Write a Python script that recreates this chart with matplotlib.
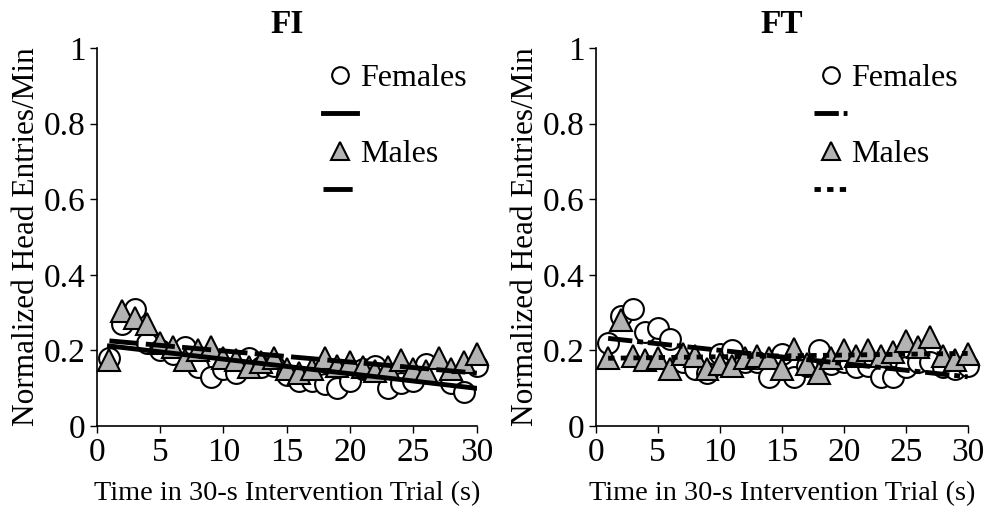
import matplotlib
import matplotlib.pyplot as plt
import numpy as np

plt.switch_backend("agg")
plt.rcParams["font.family"] = ["Liberation Serif", "DejaVu Serif"]
plt.rcParams["axes.unicode_minus"] = False

TRIALS = list(range(1, 31))

FI_FEMALES = [0.18, 0.27, 0.31, 0.22, 0.20, 0.19, 0.21, 0.155, 0.13, 0.15,
              0.14, 0.18, 0.155, 0.16, 0.135, 0.12, 0.12, 0.11, 0.10, 0.12,
              0.15, 0.16, 0.10, 0.115, 0.12, 0.165, 0.14, 0.115, 0.09, 0.16]
FI_MALES = [0.175, 0.305, 0.285, 0.27, 0.22, 0.21, 0.175, 0.20, 0.21, 0.18,
            0.175, 0.155, 0.17, 0.18, 0.15, 0.14, 0.15, 0.18, 0.16, 0.17,
            0.155, 0.145, 0.155, 0.175, 0.15, 0.145, 0.18, 0.15, 0.17, 0.19]

FT_FEMALES = [0.22, 0.29, 0.31, 0.25, 0.26, 0.23, 0.17, 0.15, 0.14, 0.19,
              0.20, 0.17, 0.17, 0.13, 0.19, 0.13, 0.16, 0.20, 0.165, 0.17,
              0.155, 0.16, 0.13, 0.13, 0.155, 0.17, 0.17, 0.155, 0.15, 0.16]
FT_MALES = [0.18, 0.28, 0.185, 0.175, 0.18, 0.15, 0.19, 0.185, 0.15, 0.165,
            0.16, 0.18, 0.185, 0.18, 0.15, 0.205, 0.165, 0.14, 0.18, 0.20,
            0.185, 0.20, 0.185, 0.195, 0.225, 0.21, 0.235, 0.185, 0.175, 0.19]

PANELS = [
    ("FI", FI_FEMALES, FI_MALES, "-", (0, (6, 1.5))),
    ("FT", FT_FEMALES, FT_MALES, (0, (5, 1, 1.2, 1)), (0, (1.3, 1.3))),
]

Y_TICKS = [0, 0.2, 0.4, 0.6, 0.8, 1]
Y_TICK_LABELS = ["0", "0.2", "0.4", "0.6", "0.8", "1"]
X_TICKS = [0, 5, 10, 15, 20, 25, 30]


def draw_panel(ax, title, females, males, fem_ls, male_ls):
    x = np.array(TRIALS)
    ax.plot(x, females, linestyle="none", marker="o", markersize=15,
            markerfacecolor="white", markeredgecolor="black",
            markeredgewidth=1.5, clip_on=False, zorder=3)
    ax.plot(x, males, linestyle="none", marker="^", markersize=16,
            markerfacecolor="#b3b3b3", markeredgecolor="black",
            markeredgewidth=1.5, clip_on=False, zorder=4)

    f_fit = np.polyfit(x, females, 1)
    m_fit = np.polyfit(x, males, 1)
    ax.plot(x, np.polyval(f_fit, x), color="black", linewidth=3.5,
            linestyle=fem_ls, zorder=5)
    ax.plot(x, np.polyval(m_fit, x), color="black", linewidth=3.5,
            linestyle=male_ls, zorder=5)

    # legend: marker rows with text, line rows without text
    h_f, = ax.plot([], [], linestyle="none", marker="o", markersize=12,
                   markerfacecolor="white", markeredgecolor="black",
                   markeredgewidth=1.5)
    h_fl, = ax.plot([], [], color="black", linewidth=3.5, linestyle=fem_ls)
    h_m, = ax.plot([], [], linestyle="none", marker="^", markersize=13,
                   markerfacecolor="#b3b3b3", markeredgecolor="black",
                   markeredgewidth=1.5)
    h_ml, = ax.plot([], [], color="black", linewidth=3.5, linestyle=male_ls)
    ax.legend([h_f, h_fl, h_m, h_ml], ["Females", "", "Males", ""],
              loc="upper right", bbox_to_anchor=(1.015, 1.0), frameon=False,
              fontsize=23, handlelength=1.05, handletextpad=0.1,
              labelspacing=0.27, borderaxespad=0.1)

    ax.set_xlim(0, 30)
    ax.set_ylim(0, 1)
    ax.set_xticks(X_TICKS)
    ax.set_yticks(Y_TICKS)
    ax.set_yticklabels(Y_TICK_LABELS)
    ax.tick_params(direction="out", length=5, width=1.0, labelsize=24, pad=3)
    for side in ("top", "right"):
        ax.spines[side].set_visible(False)
    for side in ("left", "bottom"):
        ax.spines[side].set_linewidth(1.2)

    ax.set_title(title, fontsize=24, fontweight="bold", pad=11)
    ax.set_xlabel("Time in 30-s Intervention Trial (s)", fontsize=20.3, labelpad=10)
    ax.set_ylabel("Normalized Head Entries/Min", fontsize=22.5, labelpad=2)


def main():
    fig = plt.figure(figsize=(10.08, 5.12), dpi=100)
    ax1 = fig.add_axes([0.096, 0.168, 0.377, 0.738])
    ax2 = fig.add_axes([0.591, 0.168, 0.369, 0.738])
    for ax, (title, fem, mal, fls, mls) in zip([ax1, ax2], PANELS):
        draw_panel(ax, title, fem, mal, fls, mls)
    fig.savefig("out.png", dpi=100)
    plt.close(fig)


if __name__ == "__main__":
    main()
